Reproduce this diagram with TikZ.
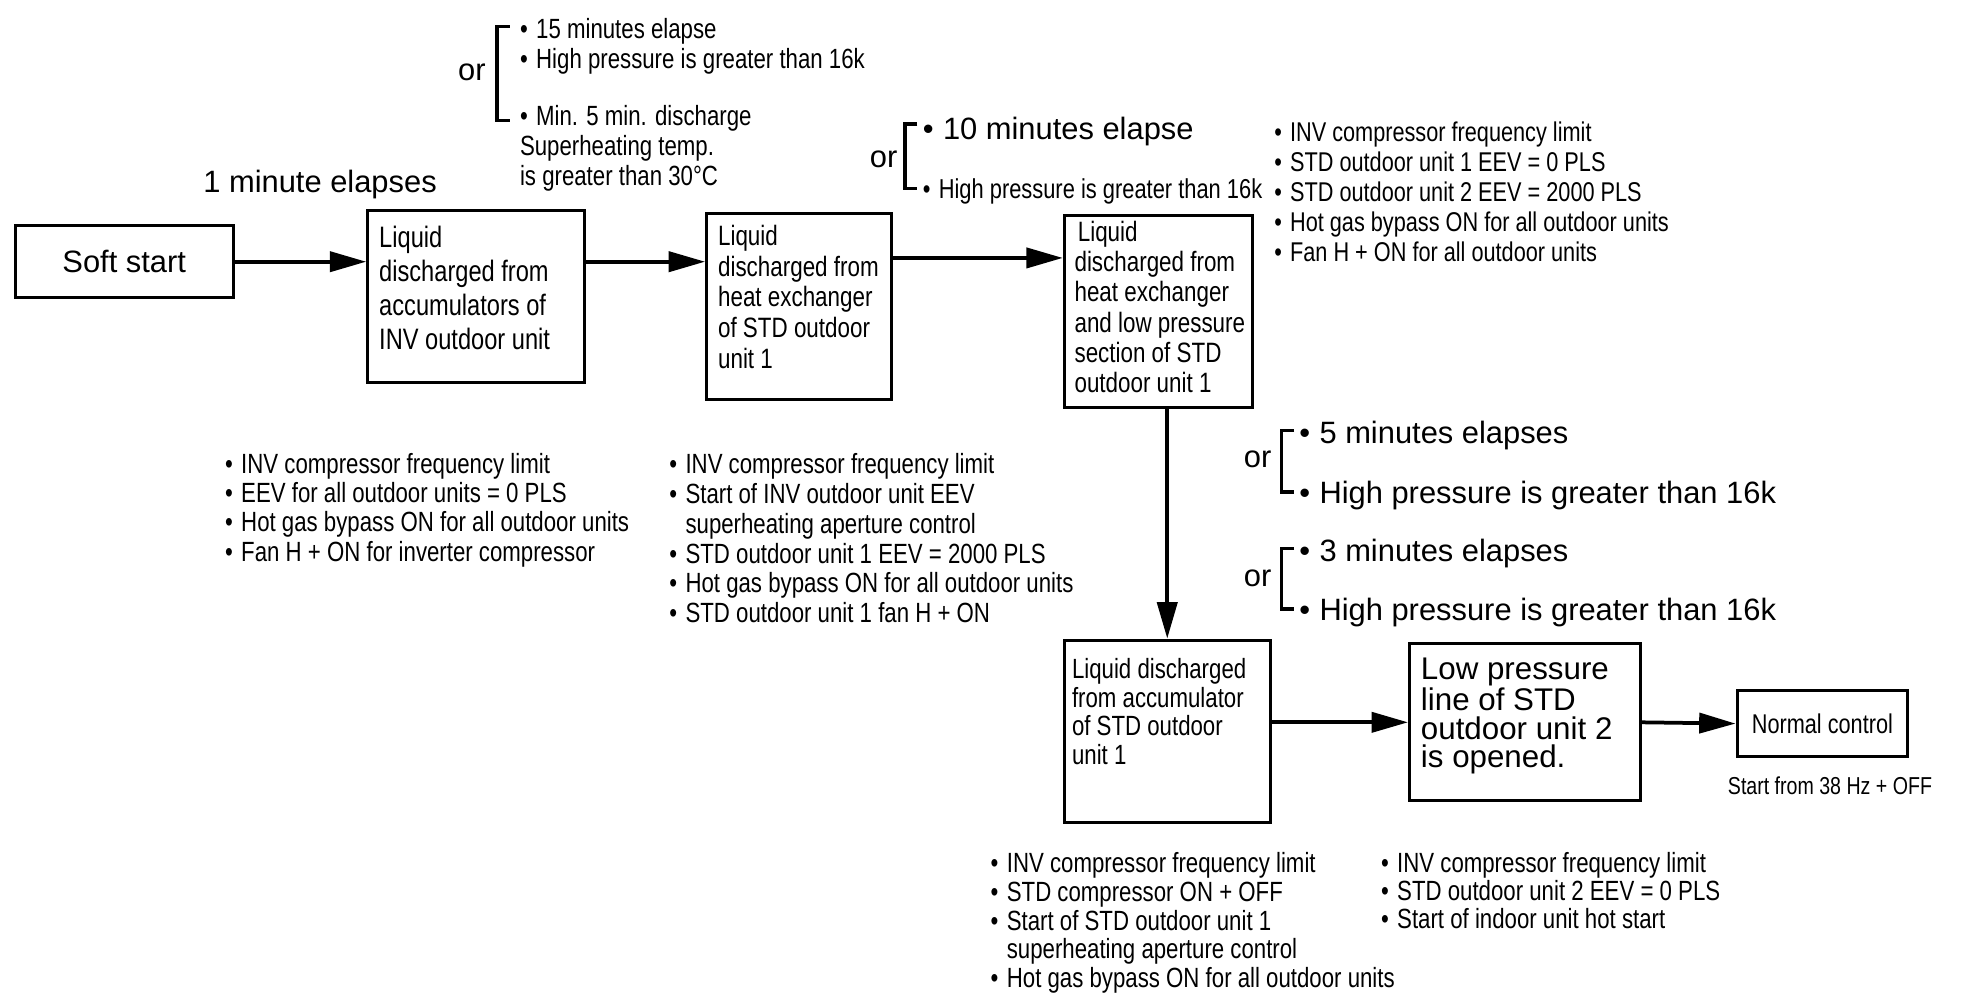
\documentclass[tikz,border=0pt]{standalone}
\usepackage{fontspec}
\setmainfont{Liberation Sans}
\newfontfamily\condfont[FakeStretch=0.8]{Liberation Sans}
\usetikzlibrary{arrows.meta,positioning}
\newcommand{\bul}{\textbullet\hspace{0.3em}}
\newcommand{\ind}{\hphantom{\textbullet}\hspace{0.3em}}

\begin{document}
\begin{tikzpicture}[x=0.02cm,y=-0.02cm,
  procbox/.style={draw,line width=1.4pt,inner sep=0pt},
  txt/.style={font=\condfont\fontsize{12.6}{13.4}\selectfont,align=left,inner sep=0pt,anchor=base west},
  bigtxt/.style={font=\fontsize{14}{13}\selectfont,inner sep=0pt},
  flow/.style={line width=1.7pt,-{Triangle[length=0.58cm,width=0.32cm]}},
  brk/.style={line width=1.6pt}]
  \useasboundingbox (0,0) rectangle (1568,792);

  \node[procbox,minimum width=3.48cm,minimum height=1.14cm,font=\fontsize{14}{16}\selectfont] (soft) at (99,208.5) {Soft start};
  \node[procbox,minimum width=3.46cm,minimum height=2.74cm] (acc) at (379.5,236.5) {};
  \node[procbox,minimum width=2.94cm,minimum height=2.96cm] (hex) at (636.5,244) {};
  \node[procbox,minimum width=3.0cm,minimum height=3.06cm] (hexlp) at (923,248.5) {};
  \node[procbox,minimum width=3.28cm,minimum height=2.9cm] (accstd) at (930,582.5) {};
  \node[procbox,minimum width=3.68cm,minimum height=2.5cm] (lowp) at (1215,575.5) {};
  \node[procbox,minimum width=2.72cm,minimum height=1.06cm,font=\condfont\fontsize{12.3}{13}\selectfont] (normal) at (1452,576.5) {Normal control};

  \node[txt,font=\condfont\fontsize{13.4}{15.5}\selectfont] (acc-t) at ([shift={(10,112)}]acc.north west)
    {Liquid\\discharged from\\accumulators of\\INV outdoor unit};
  \node[txt,font=\condfont\fontsize{12.7}{14}\selectfont] (hex-t) at ([shift={(10,125)}]hex.north west)
    {Liquid\\discharged from\\heat exchanger\\of STD outdoor\\unit 1};
  \node[txt,font=\condfont\fontsize{12.7}{13.7}\selectfont] (hexlp-t) at ([shift={(9,142)}]hexlp.north west)
    {\hspace{1.5pt}Liquid\\discharged from\\heat exchanger\\and low pressure\\section of STD\\outdoor unit 1};
  \node[txt,font=\condfont\fontsize{12.6}{12.9}\selectfont] (accstd-t) at ([shift={(7,100)}]accstd.north west)
    {Liquid discharged\\from accumulator\\of STD outdoor\\unit 1};
  \node[txt,font=\fontsize{14.2}{13}\selectfont] (lowp-t) at ([shift={(10,100)}]lowp.north west)
    {Low pressure\\line of STD\\outdoor unit 2\\is opened.};

  \draw[flow] (soft.east) -- (soft.east -| acc.west);
  \draw[flow] (soft.east -| acc.east) -- (soft.east -| hex.west);
  \draw[flow] ([yshift=0.06cm]hex.east |- soft.east) -- ([yshift=0.06cm]soft.east -| hexlp.west);
  \draw[flow] (accstd.north |- hexlp.south) -- (accstd.north);
  \draw[flow] (accstd.east |- lowp.west) -- (lowp.west);
  \draw[flow] (lowp.east) -- (normal.west);

  \node[bigtxt] (t1min) at (255,147) {1 minute elapses};
  \node[txt,font=\condfont\fontsize{11.1}{12}\selectfont,anchor=center] (t38hz) at (1458,626) {Start from 38 Hz + OFF};

  \node[bigtxt] (or1) at (376,58) {or};
  \draw[brk] (406,21) -- (396,21) -- (396,96) -- (406,96);
  \node[txt,font=\condfont\fontsize{12.6}{13.6}\selectfont] (cond1) at (414,148)
    {\bul 15 minutes elapse\\\bul High pressure is greater than 16k\\[12.5pt]\bul Min. 5 min. discharge\\Superheating temp.\\is greater than 30°C};

  \node[bigtxt] (or2) at (704,127) {or};
  \draw[brk] (731,99) -- (721,99) -- (721,150) -- (731,150);
  \node[txt,font=\fontsize{14}{16}\selectfont] (cond2a) at (735,111) {\bul 10 minutes elapse};
  \node[txt,font=\condfont\fontsize{12.4}{13}\selectfont] (cond2b) at (735,158) {\bul High pressure is greater than 16k};

  \node[txt,font=\condfont\fontsize{12.3}{13.6}\selectfont] (setc) at (1015,208)
    {\bul INV compressor frequency limit\\\bul STD outdoor unit 1 EEV = 0 PLS\\\bul STD outdoor unit 2 EEV = 2000 PLS\\\bul Hot gas bypass ON for all outdoor units\\\bul Fan H + ON for all outdoor units};

  \node[bigtxt] (or3) at (1002,366) {or};
  \draw[brk] (1031,343) -- (1021,343) -- (1021,392) -- (1031,392);
  \node[txt,font=\fontsize{14}{27.2}\selectfont] (cond3) at (1035,401)
    {\bul 5 minutes elapses\\\bul High pressure is greater than 16k};

  \node[bigtxt] (or4) at (1002,461) {or};
  \draw[brk] (1031,437) -- (1021,437) -- (1021,485) -- (1031,485);
  \node[txt,font=\fontsize{14}{26.6}\selectfont] (cond4) at (1035,494)
    {\bul 3 minutes elapses\\\bul High pressure is greater than 16k};

  \node[txt,font=\condfont\fontsize{12.6}{13.2}\selectfont] (seta) at (179,447)
    {\bul INV compressor frequency limit\\\bul EEV for all outdoor units = 0 PLS\\\bul Hot gas bypass ON for all outdoor units\\\bul Fan H + ON for inverter compressor};
  \node[txt,font=\condfont\fontsize{12.6}{13.5}\selectfont] (setb) at (533,496)
    {\bul INV compressor frequency limit\\\bul Start of INV outdoor unit EEV\\\ind superheating aperture control\\\bul STD outdoor unit 1 EEV = 2000 PLS\\\bul Hot gas bypass ON for all outdoor units\\\bul STD outdoor unit 1 fan H + ON};
  \node[txt,font=\condfont\fontsize{12.6}{13.1}\selectfont] (setd) at (789,787)
    {\bul INV compressor frequency limit\\\bul STD compressor ON + OFF\\\bul Start of STD outdoor unit 1\\\ind superheating aperture control\\\bul Hot gas bypass ON for all outdoor units};
  \node[txt,font=\condfont\fontsize{12.6}{12.8}\selectfont] (sete) at (1100,740)
    {\bul INV compressor frequency limit\\\bul STD outdoor unit 2 EEV = 0 PLS\\\bul Start of indoor unit hot start};
\end{tikzpicture}
\end{document}
